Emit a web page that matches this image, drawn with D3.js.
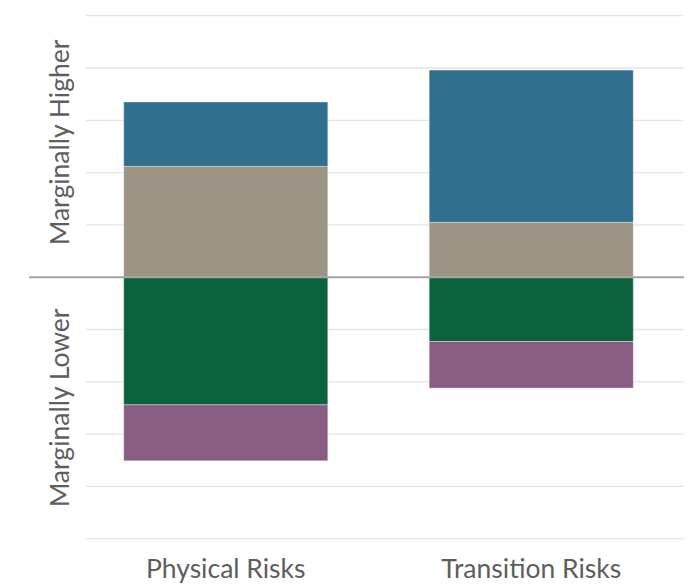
<!DOCTYPE html>
<html>
<head>
<meta charset="utf-8">
<script src="https://cdn.jsdelivr.net/npm/d3@7"></script>
<style>
  html, body { margin: 0; padding: 0; background: #fff; }
  svg { display: block; }
  text { font-family: "Lato", "Open Sans", sans-serif; fill: #5e5e5e; }
</style>
</head>
<body>
<svg id="chart" width="691" height="585"></svg>
<script>
// Risk categories along the x axis
const categories = ["Physical Risks", "Transition Risks"];

// Stack segments (above zero: "higher", below zero: "lower")
const seriesNames = ["tan", "blue", "green", "purple"];
const tanValues    = [2.12, 1.05];
const blueValues   = [1.23, 2.91];
const greenValues  = [-2.44, -1.23];
const purpleValues = [-1.07, -0.89];

const seriesColors = ["#9d9583", "#306f8e", "#0b633d", "#895c84"];

// Gridline values
const gridTicks = [-5, -4, -3, -2, -1, 1, 2, 3, 4, 5];

const axisLabels = ["Marginally Higher", "Marginally Lower"];

const svg = d3.select("#chart");

const x = d3.scaleBand()
  .domain(categories)
  .range([73, 684])
  .paddingInner(0.332)
  .paddingOuter(0.166);

const y = d3.scaleLinear()
  .domain([-5, 5])
  .range([538.7, 15.7]);

// Gridlines
svg.append("g")
  .selectAll("line")
  .data(gridTicks)
  .join("line")
  .attr("x1", 86)
  .attr("x2", 684)
  .attr("y1", d => y(d))
  .attr("y2", d => y(d))
  .attr("stroke", "#e5e5e5")
  .attr("stroke-width", 1.3);

// Build stacked segments: positives stack upward, negatives downward
const valueSets = [tanValues, blueValues, greenValues, purpleValues];
const segments = [];
categories.forEach((cat, i) => {
  let pos = 0, neg = 0;
  valueSets.forEach((vals, s) => {
    const v = vals[i];
    let y0, y1;
    if (v >= 0) { y0 = pos; y1 = pos + v; pos = y1; }
    else { y0 = neg; y1 = neg + v; neg = y1; }
    segments.push({ cat, series: seriesNames[s], color: seriesColors[s], y0, y1 });
  });
});

svg.append("g")
  .selectAll("rect")
  .data(segments)
  .join("rect")
  .attr("x", d => x(d.cat))
  .attr("width", x.bandwidth())
  .attr("y", d => y(Math.max(d.y0, d.y1)))
  .attr("height", d => Math.abs(y(d.y0) - y(d.y1)))
  .attr("fill", d => d.color)
  .attr("stroke", "rgba(255,255,255,0.35)")
  .attr("stroke-width", 1);

// Zero baseline
svg.append("line")
  .attr("x1", 29)
  .attr("x2", 684)
  .attr("y1", y(0))
  .attr("y2", y(0))
  .attr("stroke", "#a3a3a6")
  .attr("stroke-width", 2);

// Category labels
svg.append("g")
  .selectAll("text")
  .data(categories)
  .join("text")
  .attr("x", d => x(d) + x.bandwidth() / 2)
  .attr("y", 578)
  .attr("text-anchor", "middle")
  .style("font-size", "26.5px")
  .text(d => d);

// Vertical side labels
svg.append("g")
  .selectAll("text")
  .data(axisLabels)
  .join("text")
  .attr("transform", (d, i) => `translate(69,${i === 0 ? y(2.5) - 4 : y(-2.5)}) rotate(-90)`)
  .attr("text-anchor", "middle")
  .style("font-size", "26.5px")
  .text(d => d);
</script>
</body>
</html>
